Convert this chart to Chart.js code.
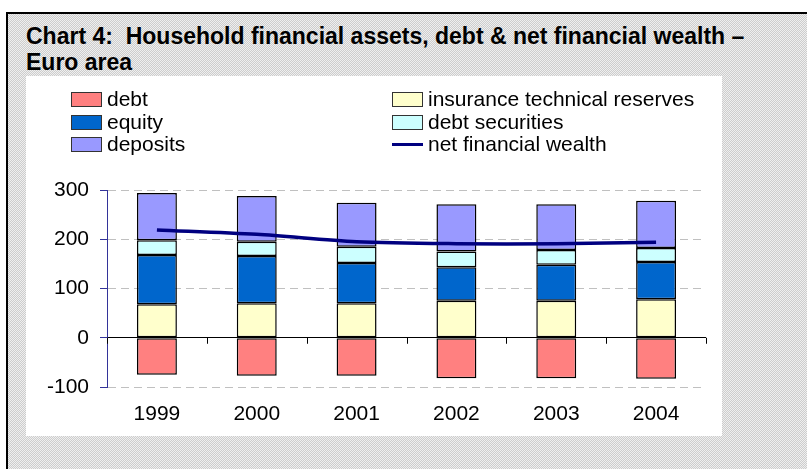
<!DOCTYPE html>
<html>
<head>
<meta charset="utf-8">
<script src="https://cdn.jsdelivr.net/npm/chart.js@4/dist/chart.umd.min.js"></script>
<style>
  html, body { margin: 0; padding: 0; background: #fff; width: 807px; height: 469px; overflow: hidden; }
  body { position: relative; font-family: "Liberation Sans", Arial, sans-serif; }
  #frame {
    position: absolute; left: 6px; top: 12px; width: 840px; height: 500px;
    box-sizing: border-box; border: 2px solid #000;
    background: repeating-conic-gradient(#cdcdcd 0 25%, #efefef 0 50%) 0 0 / 2px 2px;
  }
  #title {
    position: absolute; left: 26px; top: 23px; font-weight: bold; font-size: 23px;
    line-height: 26px; color: #000; white-space: nowrap;
  }
  #panel { position: absolute; left: 26px; top: 76px; width: 696px; height: 360px; background: #fff; }
  #legend {
    position: absolute; left: 45px; top: 12px;
    display: grid; grid-template-columns: 321px auto; grid-template-rows: repeat(3, 22.7px);
    grid-auto-flow: column; font-size: 21px; color: #000;
  }
  .item { display: flex; align-items: center; white-space: nowrap; line-height: 22.7px; }
  .sw { width: 29px; height: 13px; border: 1px solid #333; margin-right: 5px; box-sizing: content-box; }
  .ln { width: 31px; height: 3px; margin-right: 5px; }
  canvas { position: absolute; left: 0; top: 0; }
</style>
</head>
<body>
<div id="frame"></div>
<div id="title">Chart 4:&nbsp; Household financial assets, debt &amp; net financial wealth –<br>Euro area</div>
<div id="panel">
  <canvas id="c" width="696" height="360"></canvas>
  <div id="legend"></div>
</div>
<script>
// values
const years = ['1999', '2000', '2001', '2002', '2003', '2004'];
const debt = [-75, -77, -77, -82, -82, -83];
const insurance = [68, 70, 70, 75, 75, 78];
const equity = [100, 96, 82, 68, 73, 76];
const debtSecurities = [30, 29, 33, 32, 30, 28];
const deposits = [96, 93, 89, 96, 93, 96];
const netWealth = [219, 210, 195, 191, 191, 194];
const yTicks = [-100, 0, 100, 200, 300];

function bar(label, data, color) {
  return {
    type: 'bar', label: label, data: data, backgroundColor: color,
    borderColor: '#000', borderWidth: 1.5, borderSkipped: false,
    barPercentage: 0.4, categoryPercentage: 1, order: 1
  };
}

// x-axis tick marks hanging under the zero line
const zeroTicks = {
  id: 'zeroTicks',
  afterDatasetsDraw(chart) {
    const x = chart.scales.x, y = chart.scales.y, ctx = chart.ctx;
    const y0 = y.getPixelForValue(0);
    const step = (x.right - x.left) / years.length;
    ctx.save();
    ctx.strokeStyle = '#000';
    ctx.lineWidth = 1;
    ctx.beginPath();
    for (let i = 0; i <= years.length; i++) {
      const px = Math.round(x.left + i * step) + 0.5;
      ctx.moveTo(px, y0);
      ctx.lineTo(px, y0 + 6);
    }
    ctx.stroke();
    ctx.restore();
  }
};

const chart = new Chart(document.getElementById('c'), {
  data: {
    labels: years,
    datasets: [
      bar('debt', debt, '#FF8080'),
      bar('insurance technical reserves', insurance, '#FFFFCC'),
      bar('equity', equity, '#0066CC'),
      bar('debt securities', debtSecurities, '#CCFFFF'),
      bar('deposits', deposits, '#9999FF'),
      {
        type: 'line', label: 'net financial wealth', data: netWealth,
        borderColor: '#000080', borderWidth: 3.5, pointRadius: 0, tension: 0.3,
        fill: false, order: 0
      }
    ]
  },
  options: {
    responsive: false,
    animation: false,
    layout: { padding: { top: 114, right: 16, bottom: 0, left: 0 } },
    plugins: { legend: { display: false }, tooltip: { enabled: false }, title: { display: false } },
    scales: {
      x: {
        stacked: true,
        grid: { display: false, drawTicks: false },
        border: { display: false },
        ticks: { color: '#000', font: { family: 'Liberation Sans', size: 21 }, padding: 15 },
        afterFit(s) { s.height = 49; }
      },
      y: {
        stacked: true,
        min: -100, max: 300,
        afterBuildTicks(s) { s.ticks = yTicks.map(v => ({ value: v })); },
        ticks: { color: '#000', font: { family: 'Liberation Sans', size: 21 }, padding: 11 },
        grid: {
          color: c => c.tick && c.tick.value === 0 ? '#000' : '#c0c0c0',
          lineWidth: 1,
          tickLength: 7,
          tickColor: '#333399',
          tickBorderDash: []
        },
        border: {
          display: true, color: '#333399', width: 1,
          dash: c => c.tick && c.tick.value === 0 ? [] : [8, 5]
        },
        afterFit(s) { s.width = 81; }
      }
    }
  },
  plugins: [zeroTicks]
});

// two-column legend, column by column
const legendOrder = [0, 2, 4, 1, 3, 5];
const lg = document.getElementById('legend');
legendOrder.forEach(i => {
  const ds = chart.data.datasets[i];
  const it = document.createElement('div');
  it.className = 'item';
  const mk = document.createElement('span');
  if (ds.type === 'line') {
    mk.className = 'ln';
    mk.style.background = ds.borderColor;
  } else {
    mk.className = 'sw';
    mk.style.background = ds.backgroundColor;
  }
  it.appendChild(mk);
  it.appendChild(document.createTextNode(ds.label));
  lg.appendChild(it);
});
</script>
</body>
</html>
